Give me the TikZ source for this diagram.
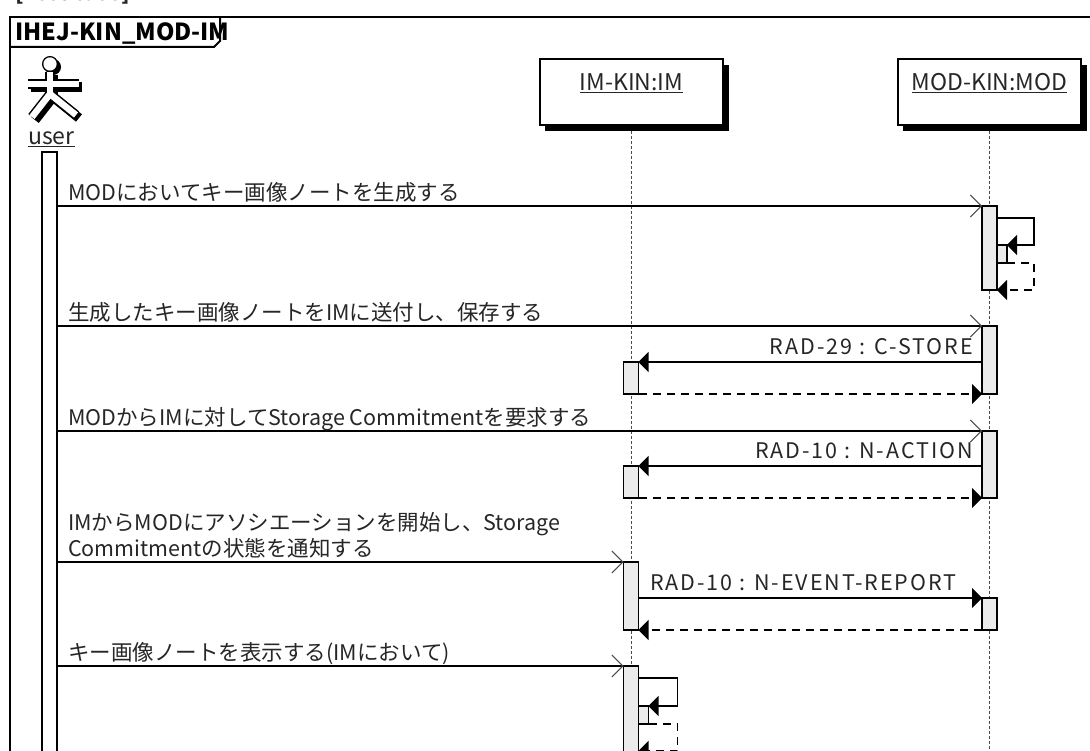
\documentclass[tikz,border=0pt]{standalone}
\usepackage{fontspec}
\setmainfont{Noto Sans CJK JP}
\usetikzlibrary{arrows.meta, positioning, calc}

\tikzset{
    lifebox/.style={draw=black, fill=white, line width=1.4pt, minimum width=#1, minimum height=66pt, inner sep=0pt, outer sep=0pt},
    lifeshadow/.style={fill=black, minimum width=#1, minimum height=66pt, inner sep=0pt, outer sep=0pt},
    lifeline/.style={line width=0.8pt, dash pattern=on 3pt off 2pt, black!70},
    bar/.style={draw=black, fill=black!8, line width=1.4pt, minimum width=15pt, minimum height=#1, inner sep=0pt, outer sep=0pt},
    subbar/.style={draw=black, fill=black!8, line width=1.4pt, minimum width=10pt, minimum height=#1, inner sep=0pt, outer sep=0pt},
    msg/.style={line width=1.4pt, -{Straight Barb[length=11pt,width=22pt,line width=0.9pt,black!70]}},
    call/.style={line width=1.4pt, -{Triangle[length=10pt,width=20pt]}},
    back/.style={line width=1.4pt, dash pattern=on 8pt off 6pt, -{Triangle[length=10pt,width=20pt]}},
    txt/.style={font=\fontsize{21.5}{26}\selectfont, anchor=base west, inner sep=0pt, black!85},
    radtxt/.style={txt, font=\fontsize{21.5}{26}\selectfont\addfontfeature{LetterSpace=9}},
    headtxt/.style={txt, font=\fontsize{23}{28}\selectfont},
}

\begin{document}
\begin{tikzpicture}[x=1pt, y=-1pt]
    \useasboundingbox (0,0) rectangle (1090,751);
    \clip (0,0) rectangle (1090,751);
    \fill[white] (0,0) rectangle (1090,751);

    % caption and frame
    \node[txt, font=\fontsize{21.5}{26}\selectfont\bfseries] (caption) at (15,1) {[Test case]};
    \draw[line width=2pt] (10,780) -- (10,17) -- (1110,17);
    \draw[line width=2pt] (10,47) -- (214,47) -- (220,41) -- (220,17);
    \node[txt, font=\fontsize{23.5}{28}\selectfont\bfseries, black] (title) at (15,41) {IHEJ-KIN\_MOD-IM};

    % user
    \foreach \dx/\wd/\hd/\col in {3/9.5/3/black, 0/9.5/3/black, 0/6.5/0.1/white} {
        \begin{scope}[shift={(\dx,\dx)}, line width=\wd pt, draw=\col]
            \draw (28,84) -- (79,84);
            \draw (50,72) -- (50,94);
            \draw (50,94) -- (32,117);
            \draw (50,94) -- (76,115);
            \draw[fill=\col, line width=\hd pt] (50,64) circle [radius=6.5];
        \end{scope}
    }
    \node[headtxt] (user) at (28,144.5) {\underline{user}};

    % lifelines
    \node[lifeshadow=184pt] (imshadow) at (637,98) {};
    \node[lifebox=183pt] (imbox) at (631.5,92) {};
    \node[lifeshadow=184pt] (modshadow) at (995,98) {};
    \node[lifebox=183pt] (modbox) at (989.5,92) {};
    \node[headtxt, anchor=base] (imlabel) at (631.5,90.5) {\underline{IM-KIN:IM}};
    \node[headtxt, anchor=base] (modlabel) at (989.5,90.5) {\underline{MOD-KIN:MOD}};
    \draw[lifeline] (imshadow.south -| imbox.south) -- (imbox.south |- 0,751);
    \draw[lifeline] (modshadow.south -| modbox.south) -- (modbox.south |- 0,751);

    % activations
    \node[bar=620pt, fill=white] (userbar) at (49.5,462) {};
    \node[bar=84pt] (modA) at (989.5,248) {};
    \node[subbar=18pt, anchor=north west] (modAsub) at (modA.east |- 0,245) {};
    \node[bar=68pt] (modB) at (989.5,360) {};
    \node[bar=32pt] (imB) at (631,378) {};
    \node[bar=67pt] (modC) at (989.5,464.5) {};
    \node[bar=32pt] (imC) at (631,482) {};
    \node[bar=68pt] (imD) at (631,596) {};
    \node[bar=32pt] (modD) at (989.5,614) {};
    \node[bar=110pt] (imE) at (631,721) {};
    \node[subbar=18pt, anchor=north west] (imEsub) at (imE.east |- 0,706) {};

    % messages
    \draw[msg] (userbar.east |- modA.north) -- (modA.north west);
    \draw[line width=1.4pt, -{Triangle[length=10pt,width=20pt]}] (modA.east |- 0,218) -| ++(37,27) -- (modAsub.north east);
    \draw[back] (modAsub.south east) -| ($(modA.south east)+(37,0)$) -- (modA.south east);
    \node[txt] (m1) at (68,200.5) {MODにおいてキー画像ノートを生成する};

    \draw[msg] (userbar.east |- modB.north) -- (modB.north west);
    \draw[call] (modB.west |- imB.north) -- (imB.north east);
    \draw[back] (imB.south east) -- (modB.south west);
    \node[txt] (m2) at (68,320.5) {生成したキー画像ノートをIMに送付し、保存する};
    \node[radtxt, anchor=base east] (rad29) at (973,354.5) {RAD-29 : C-STORE};

    \draw[msg] (userbar.east |- modC.north) -- (modC.north west);
    \draw[call] (modC.west |- imC.north) -- (imC.north east);
    \draw[back] (imC.south east) -- (modC.south west);
    \node[txt] (m3) at (68,425.5) {MODからIMに対してStorage Commitmentを要求する};
    \node[radtxt, anchor=base east] (rad10a) at (973,458.5) {RAD-10 : N-ACTION};

    \draw[msg] (userbar.east |- imD.north) -- (imD.north west);
    \draw[call] (imD.east |- modD.north) -- (modD.north west);
    \draw[back] (modD.south west) -- (imD.south east);
    \node[txt] (m4a) at (68,530.5) {IMからMODにアソシエーションを開始し、Storage};
    \node[txt] (m4b) at (68,556.5) {Commitmentの状態を通知する};
    \node[radtxt] (rad10b) at (650,590.5) {RAD-10 : N-EVENT-REPORT};

    \draw[msg] (userbar.east |- imE.north) -- (imE.north west);
    \draw[line width=1.4pt, -{Triangle[length=10pt,width=20pt]}] (imE.east |- 0,678) -| ++(39,28) -- (imEsub.north east);
    \draw[back] (imEsub.south east) -| ($(imE.east |- 0,751)+(39,0)$) -- (imE.east |- 0,751);
    \node[txt] (m5) at (68,660.5) {キー画像ノートを表示する(IMにおいて)};
\end{tikzpicture}
\end{document}
